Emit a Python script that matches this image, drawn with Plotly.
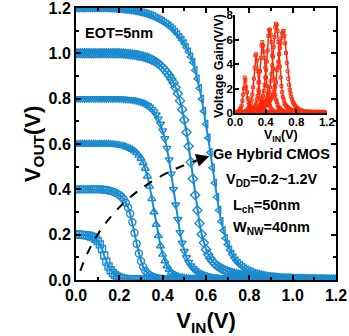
import numpy as np
import plotly.graph_objects as go

# ---------------- data ----------------
VIN = [round(0.01 * i, 2) for i in range(121)]  # input sweep 0.00 ... 1.20 V

VDD_LIST = [0.2, 0.4, 0.6, 0.8, 1.0, 1.2]

VOUT_02 = [
    0.200, 0.200, 0.200, 0.199, 0.198, 0.197, 0.195, 0.192, 0.188, 0.182,
    0.172, 0.157, 0.137, 0.108, 0.081, 0.060, 0.043, 0.031, 0.022, 0.016,
    0.011, 0.008, 0.006, 0.005, 0.004, 0.003, 0.003, 0.002, 0.002, 0.002,
    0.001, 0.001, 0.001, 0.001, 0.001, 0.001, 0.001, 0.001, 0.001, 0.001,
    0.001, 0.001, 0.001, 0.001, 0.001, 0.001, 0.001, 0.001, 0.001, 0.001,
    0.001, 0.001, 0.001, 0.001, 0.001, 0.000, 0.000, 0.000, 0.000, 0.000,
    0.000, 0.000, 0.000, 0.000, 0.000, 0.000, 0.000, 0.000, 0.000, 0.000,
    0.000, 0.000, 0.000, 0.000, 0.000, 0.000, 0.000, 0.000, 0.000, 0.000,
    0.000, 0.000, 0.000, 0.000, 0.000, 0.000, 0.000, 0.000, 0.000, 0.000,
    0.000, 0.000, 0.000, 0.000, 0.000, 0.000, 0.000, 0.000, 0.000, 0.000,
    0.000, 0.000, 0.000, 0.000, 0.000, 0.000, 0.000, 0.000, 0.000, 0.000,
    0.000, 0.000, 0.000, 0.000, 0.000, 0.000, 0.000, 0.000, 0.000, 0.000,
    0.000,
]

VOUT_04 = [
    0.400, 0.400, 0.400, 0.400, 0.400, 0.400, 0.400, 0.400, 0.400, 0.400,
    0.400, 0.400, 0.399, 0.398, 0.397, 0.395, 0.393, 0.390, 0.386, 0.381,
    0.375, 0.367, 0.356, 0.341, 0.320, 0.292, 0.255, 0.208, 0.160, 0.117,
    0.083, 0.058, 0.041, 0.029, 0.021, 0.016, 0.012, 0.009, 0.007, 0.006,
    0.005, 0.004, 0.004, 0.003, 0.003, 0.003, 0.002, 0.002, 0.002, 0.002,
    0.002, 0.002, 0.002, 0.002, 0.002, 0.002, 0.002, 0.002, 0.002, 0.002,
    0.001, 0.001, 0.001, 0.001, 0.001, 0.001, 0.001, 0.001, 0.001, 0.001,
    0.001, 0.001, 0.001, 0.001, 0.001, 0.001, 0.001, 0.001, 0.001, 0.001,
    0.001, 0.000, 0.000, 0.000, 0.000, 0.000, 0.000, 0.000, 0.000, 0.000,
    0.000, 0.000, 0.000, 0.000, 0.000, 0.000, 0.000, 0.000, 0.000, 0.000,
    0.000, 0.000, 0.000, 0.000, 0.000, 0.000, 0.000, 0.000, 0.000, 0.000,
    0.000, 0.000, 0.000, 0.000, 0.000, 0.000, 0.000, 0.000, 0.000, 0.000,
    0.000,
]

VOUT_06 = [
    0.600, 0.600, 0.600, 0.600, 0.600, 0.600, 0.600, 0.600, 0.600, 0.600,
    0.600, 0.600, 0.600, 0.600, 0.600, 0.600, 0.599, 0.598, 0.597, 0.596,
    0.595, 0.593, 0.591, 0.588, 0.584, 0.580, 0.575, 0.569, 0.561, 0.550,
    0.536, 0.517, 0.492, 0.458, 0.413, 0.358, 0.300, 0.245, 0.195, 0.150,
    0.113, 0.084, 0.062, 0.046, 0.034, 0.026, 0.020, 0.016, 0.013, 0.011,
    0.009, 0.008, 0.007, 0.006, 0.006, 0.005, 0.005, 0.004, 0.004, 0.004,
    0.003, 0.003, 0.003, 0.003, 0.003, 0.003, 0.003, 0.003, 0.003, 0.003,
    0.002, 0.002, 0.002, 0.002, 0.002, 0.002, 0.002, 0.002, 0.002, 0.002,
    0.002, 0.002, 0.002, 0.002, 0.002, 0.001, 0.001, 0.001, 0.001, 0.001,
    0.001, 0.001, 0.001, 0.001, 0.001, 0.001, 0.001, 0.001, 0.001, 0.001,
    0.000, 0.000, 0.000, 0.000, 0.000, 0.000, 0.000, 0.000, 0.000, 0.000,
    0.000, 0.000, 0.000, 0.000, 0.000, 0.000, 0.000, 0.000, 0.000, 0.000,
    0.000,
]

VOUT_08 = [
    0.800, 0.800, 0.800, 0.800, 0.800, 0.800, 0.800, 0.800, 0.800, 0.800,
    0.800, 0.800, 0.800, 0.800, 0.800, 0.800, 0.800, 0.800, 0.800, 0.800,
    0.800, 0.799, 0.799, 0.798, 0.797, 0.796, 0.795, 0.793, 0.791, 0.788,
    0.785, 0.781, 0.776, 0.770, 0.763, 0.754, 0.743, 0.729, 0.711, 0.688,
    0.659, 0.624, 0.582, 0.531, 0.468, 0.400, 0.332, 0.268, 0.210, 0.163,
    0.127, 0.099, 0.078, 0.063, 0.052, 0.043, 0.036, 0.031, 0.027, 0.023,
    0.020, 0.018, 0.016, 0.014, 0.013, 0.012, 0.011, 0.010, 0.009, 0.009,
    0.008, 0.008, 0.007, 0.007, 0.007, 0.006, 0.006, 0.006, 0.005, 0.005,
    0.005, 0.005, 0.004, 0.004, 0.004, 0.004, 0.004, 0.003, 0.003, 0.003,
    0.003, 0.003, 0.003, 0.003, 0.003, 0.002, 0.002, 0.002, 0.002, 0.002,
    0.002, 0.002, 0.002, 0.002, 0.002, 0.002, 0.002, 0.002, 0.002, 0.002,
    0.001, 0.001, 0.001, 0.001, 0.001, 0.001, 0.001, 0.001, 0.001, 0.001,
    0.001,
]

VOUT_10 = [
    1.000, 1.000, 1.000, 1.000, 1.000, 1.000, 1.000, 1.000, 1.000, 1.000,
    1.000, 1.000, 1.000, 1.000, 1.000, 1.000, 1.000, 1.000, 1.000, 1.000,
    1.000, 0.999, 0.999, 0.998, 0.997, 0.996, 0.995, 0.994, 0.992, 0.990,
    0.988, 0.986, 0.983, 0.980, 0.976, 0.972, 0.967, 0.961, 0.954, 0.946,
    0.937, 0.927, 0.915, 0.902, 0.887, 0.870, 0.849, 0.823, 0.791, 0.752,
    0.706, 0.652, 0.590, 0.520, 0.447, 0.375, 0.308, 0.250, 0.202, 0.164,
    0.135, 0.113, 0.096, 0.083, 0.072, 0.064, 0.057, 0.051, 0.046, 0.041,
    0.037, 0.034, 0.031, 0.028, 0.026, 0.024, 0.022, 0.020, 0.019, 0.017,
    0.016, 0.015, 0.014, 0.013, 0.012, 0.011, 0.011, 0.010, 0.009, 0.009,
    0.008, 0.008, 0.007, 0.007, 0.006, 0.006, 0.006, 0.005, 0.005, 0.005,
    0.004, 0.004, 0.004, 0.004, 0.004, 0.004, 0.003, 0.003, 0.003, 0.003,
    0.003, 0.003, 0.003, 0.003, 0.003, 0.002, 0.002, 0.002, 0.002, 0.002,
    0.002,
]

VOUT_12 = [
    1.200, 1.200, 1.200, 1.200, 1.200, 1.200, 1.200, 1.200, 1.200, 1.200,
    1.200, 1.200, 1.200, 1.200, 1.200, 1.200, 1.199, 1.199, 1.198, 1.198,
    1.197, 1.196, 1.195, 1.194, 1.193, 1.191, 1.190, 1.188, 1.186, 1.184,
    1.182, 1.179, 1.176, 1.173, 1.170, 1.166, 1.162, 1.157, 1.152, 1.147,
    1.141, 1.135, 1.128, 1.121, 1.113, 1.104, 1.094, 1.083, 1.071, 1.058,
    1.043, 1.026, 1.007, 0.985, 0.960, 0.925, 0.888, 0.846, 0.798, 0.745,
    0.688, 0.627, 0.562, 0.495, 0.428, 0.365, 0.308, 0.259, 0.218, 0.184,
    0.156, 0.133, 0.114, 0.098, 0.085, 0.074, 0.065, 0.057, 0.050, 0.044,
    0.039, 0.035, 0.031, 0.028, 0.025, 0.023, 0.021, 0.019, 0.017, 0.016,
    0.015, 0.014, 0.013, 0.012, 0.011, 0.010, 0.010, 0.009, 0.009, 0.008,
    0.008, 0.007, 0.007, 0.007, 0.006, 0.006, 0.006, 0.005, 0.005, 0.005,
    0.005, 0.004, 0.004, 0.004, 0.004, 0.004, 0.004, 0.003, 0.003, 0.003,
    0.003,
]

VOUT_CURVES = [VOUT_02, VOUT_04, VOUT_06, VOUT_08, VOUT_10, VOUT_12]

X_TICKS = [0.0, 0.2, 0.4, 0.6, 0.8, 1.0, 1.2]
Y_TICKS = [0.0, 0.2, 0.4, 0.6, 0.8, 1.0, 1.2]
INSET_X_TICKS = [0.0, 0.4, 0.8, 1.2]
INSET_Y_TICKS = [0, 2, 4, 6, 8]

# ---------------- styling ----------------
BLUE = "#1b8bd0"
RED = "#ff2a0a"
FONT = "Liberation Sans"
SYMBOLS = ["square-open", "circle-open", "triangle-up-open",
           "triangle-down-open", "diamond-open", "triangle-left-open"]

fig = go.Figure()

# dashed guide curve with arrow (annotation graphics)
fig.add_shape(type="path", xref="x", yref="y",
              path="M 0.02,0.04 Q 0.15,0.40 0.58,0.535",
              line=dict(color="black", width=2, dash="dash"))
fig.add_annotation(x=0.615, y=0.546, ax=0.57, ay=0.532, xref="x", yref="y",
                   axref="x", ayref="y", text="", showarrow=True,
                   arrowhead=2, arrowsize=1.3, arrowwidth=2, arrowcolor="black")

# main VTC curves
for vdd, vout, sym in zip(VDD_LIST, VOUT_CURVES, SYMBOLS):
    fig.add_trace(go.Scatter(
        x=VIN, y=vout, mode="lines+markers", name=f"VDD={vdd}V",
        line=dict(color=BLUE, width=2),
        marker=dict(symbol=sym, size=7, color=BLUE,
                    line=dict(color=BLUE, width=1.4)),
        showlegend=False, xaxis="x", yaxis="y"))

# inset: voltage gain = -dVout/dVin, from the same curves
vin_arr = np.array(VIN)
vin_mid = (vin_arr[:-1] + vin_arr[1:]) / 2
for vdd, vout in zip(VDD_LIST, VOUT_CURVES):
    gain = -np.diff(np.array(vout)) / np.diff(vin_arr)
    fig.add_trace(go.Scatter(
        x=vin_mid, y=gain, mode="lines+markers", name=f"Gain {vdd}V",
        line=dict(color=RED, width=1.5),
        marker=dict(symbol="square-open", size=3, color=RED,
                    line=dict(color=RED, width=1)),
        showlegend=False, xaxis="x2", yaxis="y2"))

tickfont_main = dict(family=FONT, size=16, color="black", weight="bold")
tickfont_inset = dict(family=FONT, size=11.5, color="black", weight="bold")

fig.update_layout(
    width=349, height=336,
    margin=dict(l=76, r=13, t=8, b=56, autoexpand=False),
    paper_bgcolor="white", plot_bgcolor="white",
    showlegend=False,
    font=dict(family=FONT, color="black"),
    xaxis=dict(
        domain=[0, 1], range=[0, 1.2], tickvals=X_TICKS, automargin=False,
        ticktext=[f"{v:.1f}" for v in X_TICKS], ticklabeloverflow="allow",
        ticks="inside", ticklen=5, tickwidth=2, tickcolor="black",
        minor=dict(dtick=0.1, tick0=0, ticks="inside", ticklen=3, tickwidth=2, tickcolor="black"),
        showline=True, linewidth=2, linecolor="black", mirror="ticks",
        showgrid=False, zeroline=False, tickfont=tickfont_main,
        title=dict(text="<b>V<sub>IN</sub>(V)</b>", font=dict(family=FONT, size=22), standoff=10),
    ),
    yaxis=dict(
        domain=[0, 1], range=[0, 1.2], tickvals=Y_TICKS, automargin=False,
        ticktext=[f"{v:.1f}" for v in Y_TICKS], ticklabeloverflow="allow",
        ticks="inside", ticklen=5, tickwidth=2, tickcolor="black",
        minor=dict(dtick=0.1, tick0=0, ticks="inside", ticklen=3, tickwidth=2, tickcolor="black"),
        showline=True, linewidth=2, linecolor="black", mirror="ticks",
        showgrid=False, zeroline=False, tickfont=tickfont_main,
        title=dict(text="<b>V<sub>OUT</sub>(V)</b>", font=dict(family=FONT, size=22), standoff=2),
    ),
    xaxis2=dict(
        domain=[0.612, 0.965], anchor="y2", range=[0, 1.2], tickvals=INSET_X_TICKS,
        ticktext=[f"{v:.1f}" for v in INSET_X_TICKS], automargin=False,
        ticklabeloverflow="allow", ticklabelstandoff=-3,
        ticks="inside", ticklen=4, tickwidth=1.5, tickcolor="black",
        showline=True, linewidth=2, linecolor="black", mirror=False,
        showgrid=False, zeroline=False, tickfont=tickfont_inset,
    ),
    yaxis2=dict(
        domain=[0.614, 0.974], anchor="x2", range=[0, 8], tickvals=INSET_Y_TICKS,
        automargin=False, ticklabeloverflow="allow", ticklabelstandoff=-2,
        ticks="inside", ticklen=4, tickwidth=1.5, tickcolor="black",
        showline=True, linewidth=2, linecolor="black", mirror=False,
        showgrid=False, zeroline=False, tickfont=tickfont_inset,
    ),
)

def note(text, x, y, size, xanchor="center", angle=0):
    fig.add_annotation(text=f"<b>{text}</b>", x=x, y=y, xref="paper", yref="paper",
                       xanchor=xanchor, yanchor="middle", showarrow=False, textangle=angle,
                       font=dict(family=FONT, size=size, color="black"))

note("EOT=5nm", 0.027, 0.908, 14.5, xanchor="left")
note("Ge Hybrid CMOS", 0.75, 0.463, 14.5)
note("V<sub>DD</sub>=0.2~1.2V", 0.754, 0.368, 14.5)
note("L<sub>ch</sub>=50nm", 0.731, 0.272, 14.5)
note("W<sub>NW</sub>=40nm", 0.75, 0.19, 14.5)
note("Voltage Gain(V/V)", 0.55, 0.787, 12.5, angle=-90)
note("V<sub>IN</sub>(V)", 0.788, 0.528, 12.5)

fig.write_html("out.html")
